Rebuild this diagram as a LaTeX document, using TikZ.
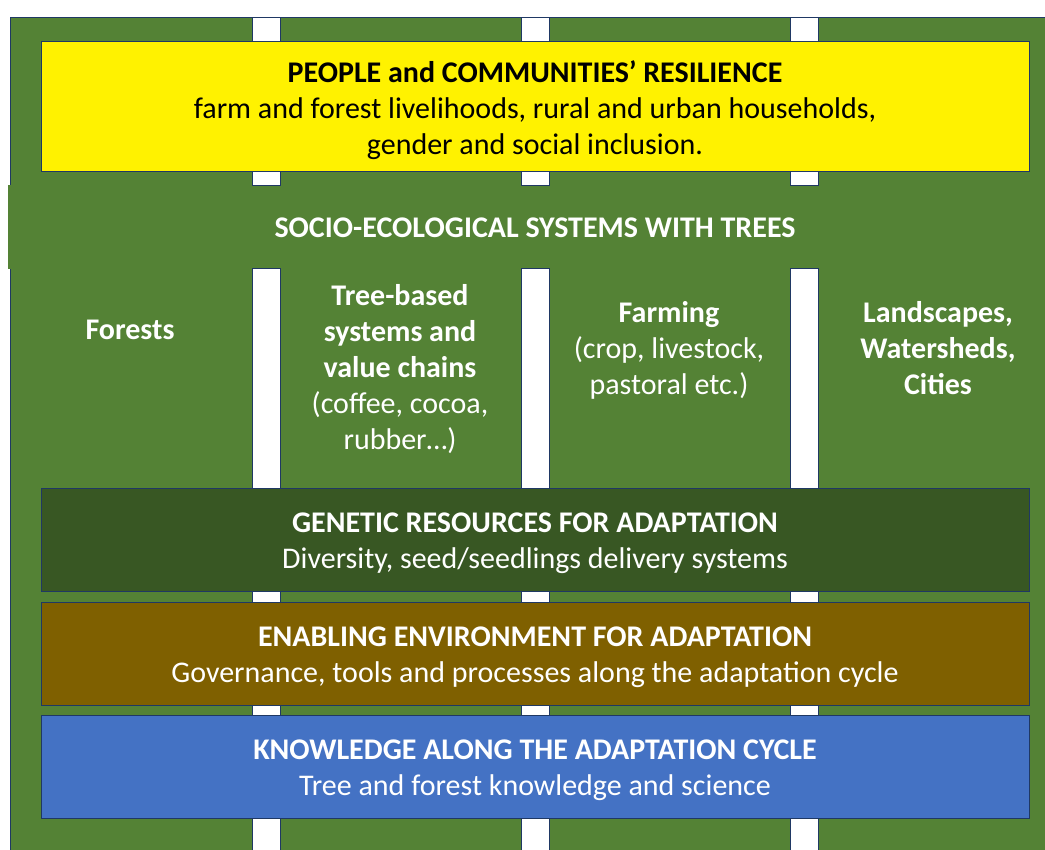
\documentclass[tikz,border=0pt]{standalone}
\usepackage{fontspec}
\setmainfont{Carlito}
\usepackage{tikz}
\usetikzlibrary{positioning}

\definecolor{leaf}{HTML}{548235}
\definecolor{navy}{HTML}{1F3864}
\definecolor{pine}{HTML}{385723}
\definecolor{umber}{HTML}{7F6000}
\definecolor{sky}{HTML}{4472C4}

\begin{document}
\begin{tikzpicture}[x=1pt,y=-1pt]
			\tikzstyle{Label}	= [align=center, text=white, font=\fontsize{30}{36}\selectfont]
			\tikzstyle{Layer} 	= [rectangle, draw=navy, line width=1pt, minimum width=988pt, minimum height=103pt]
			\tikzstyle{Inside}	= [Label, yshift=-3.5pt]
			\tikzstyle{Gap}		= [fill=white, draw=navy, line width=1pt]
			
			\useasboundingbox (0,0) rectangle (1045,850);
			\fill[white] (0,0) rectangle (1045,850);
			
			% green field and its edge
			\fill[leaf] (10,18) rectangle (1045,850);
			\draw[navy, line width=1pt] (10,185) -- (10,18) -- (1045,18);
			\draw[navy, line width=1pt] (10,269) -- (10,850);
			\fill[leaf] (8,185) rectangle (10,269);
			
			% white gaps between the columns
			\foreach \x in {252, 521, 790} {
				\draw[Gap] (\x,18) -- (\x,186) -- (\x+28,186) -- (\x+28,18);
				\draw[Gap] (\x,852) -- (\x,269) -- (\x+28,269) -- (\x+28,852);
			}
			
			\node (people) at (535,107) [Layer, fill=yellow, minimum height=130pt] {};
			\node (peopletext) at (people.center) [Inside, text=black] {\textbf{PEOPLE and COMMUNITIES’ RESILIENCE}\\farm and forest livelihoods, rural and urban households,\\gender and social inclusion.};
			
			\node (socio) at (535,228) [Label] {\textbf{SOCIO-ECOLOGICAL SYSTEMS WITH TREES}};
			
			\node (forests) at (130,330) [Label] {\textbf{Forests}};
			\node (treebased) at (400,369.5) [Label] {\textbf{Tree-based}\\\textbf{systems and}\\\textbf{value chains}\\(coffee, cocoa,\\rubber…)};
			\node (farming) at (669,350) [Label] {\textbf{Farming}\\(crop, livestock,\\pastoral etc.)};
			\node (landscapes) at (938,348) [Label] {\textbf{Landscapes,}\\\textbf{Watersheds,}\\\textbf{Cities}};
			
			\node (genetic) at (535,539.5) [Layer, fill=pine] {};
			\node (genetictext) at (genetic.center) [Inside] {\textbf{GENETIC RESOURCES FOR ADAPTATION}\\Diversity, seed/seedlings delivery systems};
			\node (enabling) at (535,653.5) [Layer, fill=umber] {};
			\node (enablingtext) at (enabling.center) [Inside] {\textbf{ENABLING ENVIRONMENT FOR ADAPTATION}\\Governance, tools and processes along the adaptation cycle};
			\node (knowledge) at (535,766.5) [Layer, fill=sky] {};
			\node (knowledgetext) at (knowledge.center) [Inside] {\textbf{KNOWLEDGE ALONG THE ADAPTATION CYCLE}\\Tree and forest knowledge and science};
		\end{tikzpicture}
\end{document}
